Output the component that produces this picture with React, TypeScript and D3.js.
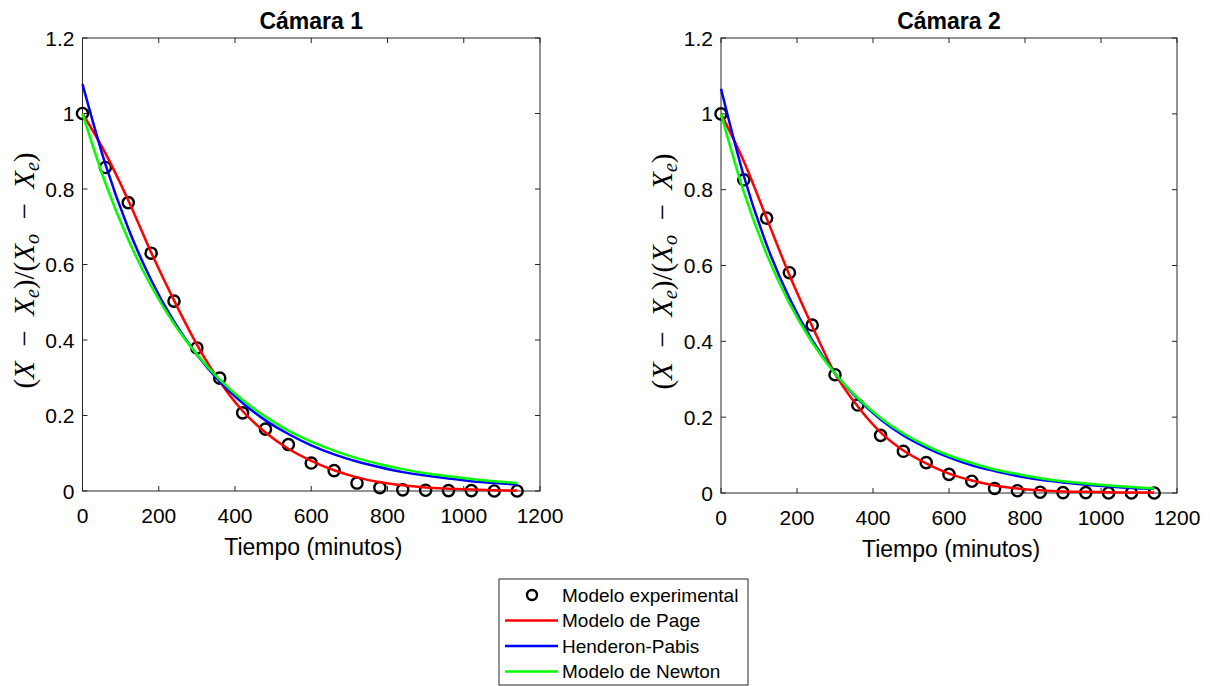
import React from 'react';
import * as d3 from 'd3';

// time axis (minutes)
const tiempo = [0, 60, 120, 180, 240, 300, 360, 420, 480, 540, 600, 660, 720, 780, 840, 900, 960, 1020, 1080, 1140];

// Cámara 1
const exp1 = [1.0, 0.857, 0.764, 0.63, 0.503, 0.379, 0.299, 0.207, 0.164, 0.123, 0.074, 0.054, 0.021, 0.009, 0.003, 0.002, 0.001, 0.001, 0.0, 0.0];
const page1 = [1.0, 0.895, 0.77, 0.632, 0.505, 0.388, 0.29, 0.212, 0.155, 0.112, 0.08, 0.055, 0.036, 0.023, 0.015, 0.009, 0.006, 0.004, 0.002, 0.001];
const hend1 = [1.078, 0.866, 0.696, 0.559, 0.449, 0.361, 0.29, 0.233, 0.187, 0.151, 0.121, 0.097, 0.078, 0.063, 0.05, 0.041, 0.033, 0.026, 0.021, 0.017];
const newt1 = [1.0, 0.816, 0.666, 0.543, 0.443, 0.362, 0.295, 0.241, 0.197, 0.16, 0.131, 0.107, 0.087, 0.071, 0.058, 0.047, 0.039, 0.032, 0.026, 0.021];

// Cámara 2
const exp2 = [1.0, 0.826, 0.725, 0.581, 0.443, 0.312, 0.232, 0.152, 0.11, 0.08, 0.049, 0.031, 0.012, 0.006, 0.002, 0.001, 0.001, 0.0, 0.0, 0.0];
const page2 = [1.0, 0.875, 0.725, 0.575, 0.44, 0.315, 0.228, 0.16, 0.112, 0.078, 0.051, 0.033, 0.02, 0.012, 0.007, 0.004, 0.003, 0.002, 0.001, 0.001];
const hend2 = [1.066, 0.836, 0.655, 0.514, 0.403, 0.316, 0.248, 0.194, 0.152, 0.12, 0.094, 0.073, 0.058, 0.045, 0.035, 0.028, 0.022, 0.017, 0.013, 0.011];
const newt2 = [1.0, 0.794, 0.63, 0.5, 0.397, 0.315, 0.25, 0.198, 0.157, 0.125, 0.099, 0.079, 0.062, 0.05, 0.039, 0.031, 0.025, 0.02, 0.016, 0.012];

const xTicks = [0, 200, 400, 600, 800, 1000, 1200];
const yTicks = [0, 0.2, 0.4, 0.6, 0.8, 1, 1.2];
const yTickLabels = ['0', '0.2', '0.4', '0.6', '0.8', '1', '1.2'];

const seriesNames = ['Modelo experimental', 'Modelo de Page', 'Henderon-Pabis', 'Modelo de Newton'];
const lineColors = ['#ff0000', '#0000ff', '#00ff00'];

const SANS = '"Liberation Sans", Arial, sans-serif';
const SERIF = '"Liberation Serif", "Times New Roman", serif';
const AX = '#262626';
const MINUS = '\u2002\u2212\u2002';

const Panel = ({ title, left, right, top, bottom, exp, models }) => {
  const x = d3.scaleLinear().domain([0, 1200]).range([left, right]);
  const y = d3.scaleLinear().domain([0, 1.2]).range([bottom, top]);
  const line = d3
    .line<number>()
    .x((d, i) => x(tiempo[i]))
    .y((d) => y(d))
    .curve(d3.curveMonotoneX);
  const cx = (left + right) / 2;

  return (
    <g>
      <text x={cx} y={29} textAnchor="middle" fontFamily={SANS} fontWeight="bold" fontSize={23}>
        {title}
      </text>
      <rect x={left} y={top} width={right - left} height={bottom - top} fill="none" stroke={AX} strokeWidth={1} />
      {xTicks.map((t) => (
        <g key={'x' + t}>
          <line x1={x(t)} x2={x(t)} y1={bottom} y2={bottom - 5} stroke={AX} />
          <line x1={x(t)} x2={x(t)} y1={top} y2={top + 5} stroke={AX} />
          <text x={x(t)} y={bottom + 32} textAnchor="middle" fontFamily={SANS} fontSize={21}>
            {t}
          </text>
        </g>
      ))}
      {yTicks.map((t, i) => (
        <g key={'y' + t}>
          <line x1={left} x2={left + 5} y1={y(t)} y2={y(t)} stroke={AX} />
          <line x1={right} x2={right - 5} y1={y(t)} y2={y(t)} stroke={AX} />
          <text x={left - 8} y={y(t)} dy="0.36em" textAnchor="end" fontFamily={SANS} fontSize={21}>
            {yTickLabels[i]}
          </text>
        </g>
      ))}
      <text x={cx + 2} y={bottom + 64} textAnchor="middle" fontFamily={SANS} fontSize={23}>
        Tiempo (minutos)
      </text>
      <text
        transform={`translate(${left - 49},${(top + bottom) / 2 + 6}) rotate(-90)`}
        textAnchor="middle"
        fontFamily={SERIF}
        fontSize={29}
      >
        <tspan>(</tspan>
        <tspan fontStyle="italic">X</tspan>
        <tspan>{MINUS}</tspan>
        <tspan fontStyle="italic">X</tspan>
        <tspan fontStyle="italic" fontSize={20} dy={5}>e</tspan>
        <tspan dy={-5}>)/(</tspan>
        <tspan fontStyle="italic">X</tspan>
        <tspan fontStyle="italic" fontSize={20} dy={5}>o</tspan>
        <tspan dy={-5}>{MINUS}</tspan>
        <tspan fontStyle="italic">X</tspan>
        <tspan fontStyle="italic" fontSize={20} dy={5}>e</tspan>
        <tspan dy={-5}>)</tspan>
      </text>
      {exp.map((v, i) => (
        <circle key={'c' + i} cx={x(tiempo[i])} cy={y(v)} r={5.6} fill="none" stroke="#000" strokeWidth={2.4} />
      ))}
      {models.map((m, k) => (
        <path key={'m' + k} d={line(m) || ''} fill="none" stroke={lineColors[k]} strokeWidth={2.5} />
      ))}
    </g>
  );
};

const Legend = () => {
  const rowY = [595, 620.5, 646, 671.5];
  return (
    <g>
      <rect x={499} y={579} width={249} height={106} fill="#fff" stroke={AX} strokeWidth={1} />
      {seriesNames.map((name, i) => (
        <g key={name}>
          {i === 0 ? (
            <circle cx={532} cy={rowY[i]} r={5} fill="none" stroke="#000" strokeWidth={2.4} />
          ) : (
            <line x1={505} x2={558} y1={rowY[i]} y2={rowY[i]} stroke={lineColors[i - 1]} strokeWidth={2.5} />
          )}
          <text x={562} y={rowY[i]} dy="0.36em" fontFamily={SANS} fontSize={19}>
            {name}
          </text>
        </g>
      ))}
    </g>
  );
};

export default function App() {
  return (
    <svg width={1210} height={686} style={{ position: 'absolute', left: 0, top: 0, background: '#fff' }}>
      <rect width={1210} height={686} fill="#fff" />
      <Panel title="Cámara 1" left={82.5} right={540} top={38} bottom={491} exp={exp1} models={[page1, hend1, newt1]} />
      <Panel title="Cámara 2" left={721} right={1177} top={38} bottom={493} exp={exp2} models={[page2, hend2, newt2]} />
      <Legend />
    </svg>
  );
}
